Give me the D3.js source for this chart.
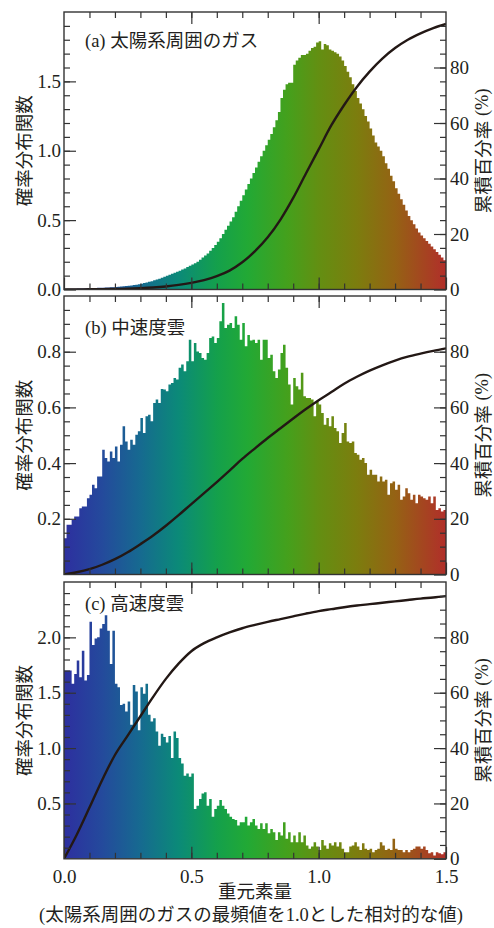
<!DOCTYPE html>
<html>
<head>
<meta charset="UTF-8">
<title>重元素量の確率分布</title>
<script src="https://cdn.jsdelivr.net/npm/d3@7"></script>
<style>
  body { margin: 0; background: #fff; }
</style>
</head>
<body>
<div id="chart"></div>
<script>
  // bin edges of the histograms (bin width 0.01)
  const binEdges = d3.range(0, 1.5, 0.01)

  // (a) gas around the solar system
  const pdfA = [
    0.004, 0.005, 0.005, 0.006, 0.006, 0.007, 0.007, 0.008, 0.008, 0.009,
    0.010, 0.010, 0.011, 0.012, 0.012, 0.013, 0.014, 0.015, 0.016, 0.017,
    0.018, 0.020, 0.021, 0.023, 0.025, 0.027, 0.029, 0.032, 0.035, 0.038,
    0.042, 0.046, 0.050, 0.055, 0.060, 0.066, 0.072, 0.078, 0.085, 0.092,
    0.100, 0.107, 0.113, 0.120, 0.128, 0.136, 0.145, 0.152, 0.162, 0.172,
    0.180, 0.190, 0.200, 0.215, 0.230, 0.245, 0.260, 0.280, 0.300, 0.320,
    0.345, 0.370, 0.400, 0.430, 0.460, 0.490, 0.520, 0.560, 0.600, 0.640,
    0.680, 0.720, 0.760, 0.800, 0.840, 0.880, 0.920, 0.960, 1.000, 1.040,
    1.080, 1.120, 1.170, 1.220, 1.280, 1.380, 1.440, 1.480, 1.490, 1.490,
    1.620, 1.650, 1.670, 1.690, 1.690, 1.700, 1.720, 1.740, 1.750, 1.780,
    1.790, 1.730, 1.770, 1.760, 1.730, 1.720, 1.710, 1.700, 1.680, 1.650,
    1.610, 1.570, 1.530, 1.480, 1.430, 1.380, 1.340, 1.300, 1.250, 1.210,
    1.160, 1.110, 1.060, 1.030, 1.000, 0.960, 0.910, 0.870, 0.820, 0.780,
    0.730, 0.690, 0.650, 0.610, 0.570, 0.530, 0.500, 0.470, 0.440, 0.410,
    0.390, 0.370, 0.350, 0.330, 0.310, 0.290, 0.270, 0.250, 0.230, 0.210
  ]

  // (b) intermediate velocity clouds
  const pdfB = [
    0.130, 0.179, 0.179, 0.196, 0.208, 0.208, 0.238, 0.244, 0.244, 0.274,
    0.286, 0.322, 0.310, 0.352, 0.352, 0.448, 0.418, 0.406, 0.442, 0.418,
    0.460, 0.406, 0.466, 0.532, 0.478, 0.448, 0.484, 0.466, 0.502, 0.514,
    0.562, 0.508, 0.568, 0.574, 0.550, 0.616, 0.628, 0.616, 0.666, 0.664,
    0.658, 0.682, 0.688, 0.706, 0.700, 0.742, 0.754, 0.730, 0.766, 0.843,
    0.766, 0.831, 0.801, 0.795, 0.777, 0.771, 0.795, 0.849, 0.855, 0.831,
    0.849, 0.909, 0.975, 0.885, 0.897, 0.903, 0.885, 0.927, 0.897, 0.843,
    0.903, 0.820, 0.860, 0.840, 0.843, 0.831, 0.843, 0.771, 0.843, 0.843,
    0.777, 0.789, 0.730, 0.706, 0.736, 0.795, 0.825, 0.742, 0.682, 0.610,
    0.706, 0.676, 0.664, 0.724, 0.640, 0.634, 0.634, 0.628, 0.568, 0.622,
    0.610, 0.580, 0.538, 0.562, 0.532, 0.568, 0.526, 0.514, 0.472, 0.508,
    0.544, 0.478, 0.472, 0.478, 0.436, 0.430, 0.412, 0.418, 0.400, 0.358,
    0.376, 0.358, 0.358, 0.334, 0.352, 0.334, 0.340, 0.286, 0.328, 0.334,
    0.304, 0.322, 0.268, 0.280, 0.310, 0.292, 0.268, 0.286, 0.256, 0.286,
    0.280, 0.274, 0.268, 0.280, 0.256, 0.280, 0.232, 0.238, 0.226, 0.232
  ]

  // (c) high velocity clouds
  const pdfC = [
    1.70, 1.70, 1.70, 1.58, 1.67, 1.79, 1.64, 1.88, 1.61, 1.66,
    2.14, 1.93, 1.99, 2.00, 2.08, 2.12, 2.20, 2.06, 1.76, 2.06,
    1.58, 1.55, 1.39, 1.40, 1.33, 1.42, 1.21, 1.57, 1.51, 1.16,
    1.55, 1.49, 1.58, 1.30, 1.24, 1.27, 1.15, 1.02, 1.13, 1.10,
    1.05, 1.11, 0.91, 1.15, 1.09, 0.91, 0.86, 0.75, 0.77, 0.74,
    0.77, 0.45, 0.48, 0.54, 0.59, 0.60, 0.48, 0.54, 0.38, 0.45,
    0.48, 0.53, 0.48, 0.45, 0.41, 0.38, 0.36, 0.35, 0.30, 0.33,
    0.33, 0.38, 0.30, 0.33, 0.36, 0.30, 0.27, 0.32, 0.27, 0.32,
    0.23, 0.27, 0.24, 0.17, 0.24, 0.21, 0.33, 0.18, 0.24, 0.15,
    0.21, 0.15, 0.24, 0.15, 0.21, 0.12, 0.09, 0.11, 0.15, 0.11,
    0.08, 0.17, 0.12, 0.09, 0.14, 0.12, 0.15, 0.11, 0.15, 0.09,
    0.06, 0.06, 0.11, 0.12, 0.15, 0.11, 0.08, 0.14, 0.09, 0.08,
    0.09, 0.06, 0.08, 0.09, 0.15, 0.12, 0.08, 0.09, 0.08, 0.18,
    0.09, 0.08, 0.08, 0.06, 0.08, 0.06, 0.08, 0.09, 0.11, 0.11,
    0.09, 0.11, 0.08, 0.05, 0.06, 0.03, 0.06, 0.05, 0.04, 0.06
  ]

  // cumulative percentage, read every 0.05
  const cumX = d3.range(0, 1.501, 0.05)
  const cumA = [0, 0.03, 0.07, 0.12, 0.2, 0.3, 0.47, 0.72, 1.1, 1.65, 2.4, 3.4, 4.8, 6.8, 9.8, 13.8,
    18.8, 25.2, 33.0, 41.8, 50.5, 59.2, 66.5, 73.0, 78.5, 83.2, 87.0, 90.0, 92.3, 94.2, 95.7]
  const cumB = [0, 0.8, 1.9, 3.5, 5.5, 8.0, 10.9, 14.0, 17.5, 21.3, 25.3, 29.2, 33.2, 37.3, 41.5, 45.3,
    49.0, 52.5, 56.0, 59.4, 62.6, 65.5, 68.5, 71.0, 73.2, 75.1, 76.8, 78.2, 79.3, 80.3, 81.2]
  const cumC = [0, 8.7, 18.5, 28.5, 37.5, 44.5, 51.5, 58.5, 65.0, 70.5, 75.0, 77.9, 80.0, 81.8, 83.3, 84.5,
    85.6, 86.6, 87.6, 88.6, 89.5, 90.2, 90.9, 91.5, 92.0, 92.5, 93.0, 93.5, 94.0, 94.4, 94.9]

  // tick labels
  const xTicks = [0, 0.5, 1.0, 1.5]
  const yTicksA = [0, 0.5, 1.0, 1.5]
  const yTicksB = [0.2, 0.4, 0.6, 0.8]
  const yTicksC = [0.5, 1.0, 1.5, 2.0]
  const pctTicks = [0, 20, 40, 60, 80]

  // colour map along the x axis
  const colorStops = [0, 0.15, 0.3, 0.45, 0.6, 0.72, 0.88, 1.0, 1.15, 1.3, 1.5]
  const colorValues = ['#2d2f9f', '#244a9c', '#166a90', '#0b8a78', '#14a04c', '#22a935',
    '#45a01c', '#638f12', '#7c7d0e', '#956214', '#b12e2a']

  // panel labels split into latin prefix and japanese text
  const panelTags = ['(a)', '(b)', '(c)']
  const panelNames = ['太陽系周囲のガス', '中速度雲', '高速度雲']
  const yTitle = '確率分布関数'
  const yTitleRight = ['累積百分率', '(%)']
  const xTitle1 = '重元素量'
  const xTitle2 = ['(', '太陽系周囲のガスの最頻値を', '1.0', 'とした相対的な値', ')']

  const W = 494, H = 928
  const left = 64, right = 446
  const SERIF = 'Liberation Serif'
  const JP = 'Noto Sans CJK JP'
  const ink = '#231f20'

  const panels = [
    { tag: panelTags[0], name: panelNames[0], pdf: pdfA, cum: cumA, yMax: 2.0, yTicks: yTicksA, minor: 0.1, top: 12, bottom: 289.5, labelY: 47 },
    { tag: panelTags[1], name: panelNames[1], pdf: pdfB, cum: cumB, yMax: 1.0, yTicks: yTicksB, minor: 0.05, top: 296, bottom: 574.5, labelY: 334 },
    { tag: panelTags[2], name: panelNames[2], pdf: pdfC, cum: cumC, yMax: 2.5, yTicks: yTicksC, minor: 0.1, top: 582, bottom: 858.8, labelY: 610 },
  ]

  const svg = d3.select('#chart').append('svg')
    .attr('width', W).attr('height', H)
    .attr('viewBox', `0 0 ${W} ${H}`)

  const x = d3.scaleLinear().domain([0, 1.5]).range([left, right])

  // gradient across the whole x range
  const grad = svg.append('defs').append('linearGradient')
    .attr('id', 'metal')
    .attr('gradientUnits', 'userSpaceOnUse')
    .attr('x1', x(0)).attr('x2', x(1.5)).attr('y1', 0).attr('y2', 0)
  grad.selectAll('stop').data(colorStops).join('stop')
    .attr('offset', (d) => d / 1.5)
    .attr('stop-color', (d, i) => colorValues[i])

  function styleTicks(g) {
    g.attr('font-family', SERIF).attr('font-size', 19)
    g.select('.domain').remove()
    g.selectAll('.tick line').attr('stroke', '#333').attr('stroke-width', 1.2)
    g.selectAll('.tick text').attr('fill', ink)
  }

  // text made of runs, each run a tspan in its own font
  function runs(sel, parts) {
    const t = sel.append('text').attr('font-size', 18.5).attr('fill', ink)
    parts.forEach((s) => {
      t.append('tspan')
        .attr('font-family', /[\u3000-\u9fff]/.test(s) ? JP : SERIF)
        .text(s)
    })
    return t
  }

  panels.forEach((p, pi) => {
    const y = d3.scaleLinear().domain([0, p.yMax]).range([p.bottom, p.top])
    const yR = d3.scaleLinear().domain([0, 100]).range([p.bottom, p.top])
    const g = svg.append('g')

    const clipId = 'clip' + pi
    svg.select('defs').append('clipPath').attr('id', clipId)
      .append('rect')
      .attr('x', left).attr('y', p.top)
      .attr('width', right - left).attr('height', p.bottom - p.top)

    // histogram
    const pts = p.pdf.map((v, i) => [binEdges[i], v])
    pts.push([1.5, p.pdf[p.pdf.length - 1]])
    const area = d3.area()
      .curve(d3.curveStepAfter)
      .x((d) => x(d[0]))
      .y0(y(0))
      .y1((d) => y(d[1]))
    g.append('path')
      .attr('clip-path', `url(#${clipId})`)
      .attr('d', area(pts))
      .attr('fill', 'url(#metal)')

    // cumulative curve
    const line = d3.line()
      .curve(d3.curveMonotoneX)
      .x((d) => x(d[0]))
      .y((d) => yR(d[1]))
    g.append('path')
      .attr('clip-path', `url(#${clipId})`)
      .attr('d', line(cumX.map((v, i) => [v, p.cum[i]])))
      .attr('fill', 'none')
      .attr('stroke', '#231815')
      .attr('stroke-width', 2.4)

    // frame
    g.append('rect')
      .attr('x', left).attr('y', p.top)
      .attr('width', right - left).attr('height', p.bottom - p.top)
      .attr('fill', 'none')
      .attr('stroke', '#333')
      .attr('stroke-width', 1.4)

    // left axis
    g.append('g').attr('transform', `translate(${left},0)`)
      .call(d3.axisLeft(y).tickValues(d3.range(p.minor, p.yMax, p.minor)).tickSize(-6).tickFormat(''))
      .call(styleTicks)
    g.append('g').attr('transform', `translate(${left},0)`)
      .call(d3.axisLeft(y).tickValues(p.yTicks).tickSize(-12).tickPadding(3).tickFormat(d3.format('.1f')))
      .call(styleTicks)

    // right axis
    g.append('g').attr('transform', `translate(${right},0)`)
      .call(d3.axisRight(yR).tickValues(d3.range(5, 100, 5)).tickSize(-6).tickFormat(''))
      .call(styleTicks)
    g.append('g').attr('transform', `translate(${right},0)`)
      .call(d3.axisRight(yR).tickValues(pctTicks).tickSize(-12).tickPadding(4).tickFormat(d3.format('d')))
      .call(styleTicks)

    // top and bottom axes
    g.append('g').attr('transform', `translate(0,${p.top})`)
      .call(d3.axisTop(x).tickValues(d3.range(0.1, 1.5, 0.1)).tickSize(-6).tickFormat(''))
      .call(styleTicks)
    g.append('g').attr('transform', `translate(0,${p.top})`)
      .call(d3.axisTop(x).tickValues([0.5, 1.0]).tickSize(-12).tickFormat(''))
      .call(styleTicks)
    g.append('g').attr('transform', `translate(0,${p.bottom})`)
      .call(d3.axisBottom(x).tickValues(d3.range(0.1, 1.5, 0.1)).tickSize(-6).tickFormat(''))
      .call(styleTicks)
    g.append('g').attr('transform', `translate(0,${p.bottom})`)
      .call(d3.axisBottom(x).tickValues(xTicks).tickSize(-12).tickPadding(11)
        .tickFormat(pi === 2 ? d3.format('.1f') : ''))
      .call(styleTicks)

    // panel label
    runs(g, [p.tag + ' ', p.name]).attr('x', 85).attr('y', p.labelY)

    const cy = (p.top + p.bottom) / 2
    runs(g, [yTitle])
      .attr('transform', `translate(23,${cy}) rotate(-90)`)
      .attr('text-anchor', 'middle')
      .attr('dominant-baseline', 'central')
    runs(g, [yTitleRight[0], ' ' + yTitleRight[1]])
      .attr('transform', `translate(482,${cy}) rotate(-90)`)
      .attr('text-anchor', 'middle')
      .attr('dominant-baseline', 'central')
  })

  // x axis title
  runs(svg, [xTitle1])
    .attr('x', (left + right) / 2).attr('y', 898)
    .attr('text-anchor', 'middle')
  runs(svg, xTitle2)
    .attr('x', 251).attr('y', 921)
    .attr('text-anchor', 'middle')
</script>
</body>
</html>
